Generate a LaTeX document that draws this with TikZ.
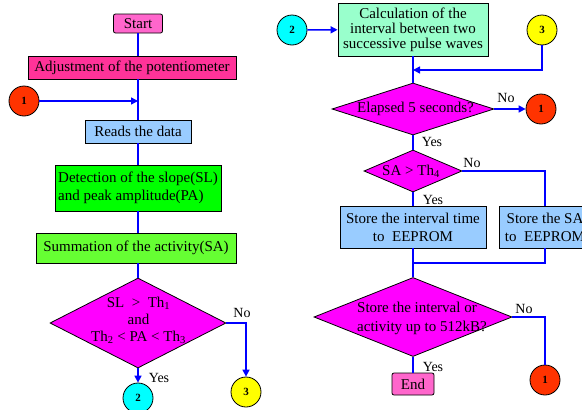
\documentclass[tikz,border=0pt]{standalone}
\usepackage{fontspec}
\setmainfont{Liberation Serif}
\usetikzlibrary{shapes.geometric,arrows.meta}
\definecolor{fcpink}{RGB}{255,102,204}
\definecolor{fcrose}{RGB}{255,51,153}
\definecolor{fcsky}{RGB}{153,204,255}
\definecolor{fcgreen}{RGB}{0,255,0}
\definecolor{fclime}{RGB}{102,255,51}
\definecolor{fcmag}{RGB}{255,0,255}
\definecolor{fcmint}{RGB}{153,255,204}
\definecolor{fcred}{RGB}{255,51,0}
\definecolor{fccyan}{RGB}{0,255,255}
\definecolor{fcyellow}{RGB}{255,255,0}
\definecolor{fcline}{RGB}{0,0,255}

\begin{document}
\begin{tikzpicture}[x=1pt, y=-1pt,
  font=\fontsize{15}{18}\selectfont,
  box/.style={draw=black, line width=0.8pt, inner sep=0pt, align=center},
  term/.style={box, rounded corners=2pt, fill=fcpink},
  decision/.style={diamond, draw=black, line width=0.8pt, fill=fcmag, inner sep=0pt},
  conn/.style={circle, draw=black, line width=0.8pt, minimum size=30pt, inner sep=0pt,
    font=\fontsize{11}{13}\bfseries},
  flow/.style={fcline, line width=1.5pt},
  arr/.style={flow, -{Triangle[length=7pt,width=7pt]}},
  lbl/.style={font=\fontsize{14}{16}\selectfont, inner sep=0pt}]
  \path[use as bounding box, clip] (0,0) rectangle (582,410);

  % left column
  \node[term, minimum width=49pt, minimum height=19pt] (start) at (138,23.5) {Start};
  \node[box, fill=fcrose, minimum width=208pt, minimum height=23pt] (adjust) %
    at (132,67.5) {Adjustment of the potentiometer};
  \node[conn, fill=fcred] (jmpa) at (24,101) {1};
  \node[box, fill=fcsky, minimum width=106pt, minimum height=23pt] (reads) %
    at (138,131.5) {Reads the data};
  \node[box, fill=fcgreen, minimum width=166pt, minimum height=46pt, align=left] (detect) %
    at (138,188) {Detection of the slope(SL)\\and peak amplitude(PA)};
  \node[box, fill=fclime, minimum width=200pt, minimum height=30pt] (summ) %
    at (136,248) {Summation of the activity(SA)};
  \node[decision, minimum width=176pt, minimum height=90pt] (cond) at (138,323) {};
  \node[align=center, font=\fontsize{15}{17}\selectfont] (condtext) at (138.5,320) %
    {SL \ > \ Th\textsubscript{1}\\and\\Th\textsubscript{2} < PA < Th\textsubscript{3}};
  \node[conn, fill=fccyan] (jmpb) at (138,398) {2};
  \node[conn, fill=fcyellow] (jmpc) at (246,392) {3};

  \draw[flow] (start) -- (start |- adjust.north);
  \draw[flow] (start |- adjust.south) -- (reads);
  \draw[arr] (jmpa) -- (jmpa -| reads);
  \draw[flow] (reads) -- (detect);
  \draw[flow] (detect) -- (detect |- summ.north);
  \draw[flow] (summ.south -| cond.north) -- (cond.north);
  \draw[arr] (cond.south) -- (jmpb);
  \draw[arr] (cond.east) -| (jmpc);
  \node[lbl] (condno) at (242,313) {No};
  \node[lbl] (condyes) at (159,378) {Yes};

  % right column
  \node[conn, fill=fccyan] (inb) at (292,30) {2};
  \node[box, fill=fcmint, minimum width=150pt, minimum height=53pt, %
    font=\fontsize{15}{15}\selectfont] (calc) at (413,29.5) %
    {Calculation of the\\interval between two\\successive pulse waves};
  \node[conn, fill=fcyellow] (inc) at (542,30) {3};
  \coordinate (merge1) at (413,70);
  \node[decision, minimum width=162pt, minimum height=52pt] (elapsed) at (413,109) {};
  \node (elapsedtext) at (415.5,109) {Elapsed 5 seconds?};
  \node[conn, fill=fcred] (outa) at (541,109) {1};
  \node[decision, minimum width=98pt, minimum height=42pt] (sacheck) at (413,171) {};
  \node (sachecktext) at (411,171) {SA > Th\textsubscript{4}};
  \node[box, fill=fcsky, minimum width=146pt, minimum height=42pt] (storeint) %
    at (413,227) {Store the interval time\\to \ EEPROM};
  \node[box, fill=fcsky, minimum width=92pt, minimum height=42pt] (storesa) %
    at (545,227) {Store the SA\\to \ EEPROM};
  \coordinate (merge2) at (413,263);
  \node[decision, minimum width=198pt, minimum height=79pt] (full) at (413,317) {};
  \node[align=left, font=\fontsize{15}{19}\selectfont] (fulltext) at (422,318.5) %
    {Store the interval or\\activity up to 512kB?};
  \node[conn, fill=fcred] (outb) at (545,380) {1};
  \node[term, minimum width=42pt, minimum height=22pt] (end) at (413,384) {End};

  \draw[arr] (inb) -- (calc);
  \draw[flow] (calc) -- (elapsed);
  \draw[arr] (inc) |- (merge1);
  \draw[arr] (elapsed.east) -- (outa);
  \draw[flow] (elapsed) -- (sacheck);
  \draw[flow] (sacheck) -- (storeint);
  \draw[flow] (sacheck.east) -| (storesa);
  \draw[flow] (storeint) -- (full);
  \draw[flow] (storesa) |- (merge2);
  \draw[flow] (full.east) -| (outb);
  \draw[flow] (full) -- (end);
  \node[lbl] (elapsedno) at (506,98) {No};
  \node[lbl] (elapsedyes) at (432,142) {Yes};
  \node[lbl] (sacheckno) at (472,163) {No};
  \node[lbl] (sacheckyes) at (433,200) {Yes};
  \node[lbl] (fullno) at (524,309) {No};
  \node[lbl] (fullyes) at (433,367) {Yes};
\end{tikzpicture}
\end{document}
